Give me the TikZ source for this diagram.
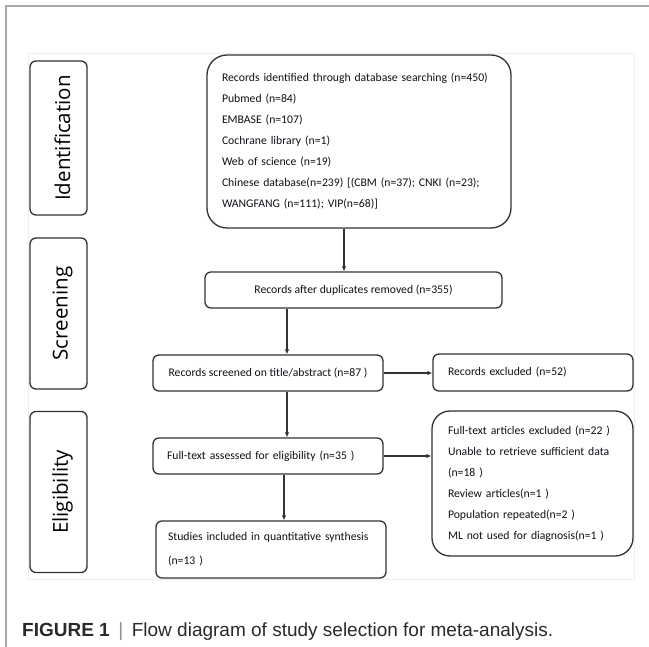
\documentclass[tikz,border=0pt]{standalone}
\usepackage{fontspec}
\setmainfont{Carlito}
\newfontfamily\labelfont{Open Sans}
\newfontfamily\capfont{Liberation Sans}
\usetikzlibrary{arrows.meta}
\definecolor{boxline}{HTML}{333333}
\definecolor{txt}{HTML}{101018}
\definecolor{frameouter}{HTML}{A8A8A8}
\definecolor{frameinner}{HTML}{EEEEEE}
\definecolor{captxt}{HTML}{2A2A2A}
\begin{document}
\begin{tikzpicture}[x=1pt,y=-1pt,
  box/.style={draw=boxline, line width=1.3pt, rounded corners=6pt, inner ysep=0pt,
    font=\fontsize{11.7}{21}\selectfont, text=txt},
  bigbox/.style={box, rounded corners=20pt},
  sidebox/.style={draw=boxline, line width=1.3pt, rounded corners=6pt, minimum width=57pt, inner sep=0pt},
  sidelabel/.style={rotate=90, font=\labelfont\fontsize{20.5}{24}\selectfont, text=black, inner sep=0pt},
  arr/.style={draw=boxline, line width=1.2pt, -{Latex[length=5pt,width=4.5pt]}},
]
\useasboundingbox (0,0) rectangle (649,647);
\fill[white] (0,0) rectangle (649,647);
% frames
\draw[frameouter, line width=1.5pt] (6,647) -- (6,6) -- (649,6);
\draw[frameinner, line width=0.8pt] (28,53) rectangle (634,579);

% side boxes
\node[sidebox, minimum height=154pt] (idbox) at (58.5,138) {};
\node[sidelabel] (idlab) at ([xshift=4pt]idbox.center) {Identification};
\node[sidebox, minimum height=151pt] (scbox) at (58.5,313.5) {};
\node[sidelabel] (sclab) at ([xshift=4pt]scbox.center) {Screening};
\node[sidebox, minimum height=161pt] (elbox) at (58.5,492) {};
\node[sidelabel] (ellab) at ([xshift=4pt]elbox.center) {Eligibility};

% main boxes
\node[bigbox, inner xsep=15pt, text width=274pt, minimum height=173pt, align=left] (b1) at (359,141.5)
 {Records identified through database searching (n=450)\\
  Pubmed (n=84)\\
  EMBASE (n=107)\\
  Cochrane library (n=1)\\
  Web of science (n=19)\\
  \makebox[268pt][s]{Chinese database(n=239) [(CBM (n=37); CNKI (n=23);}\\
  WANGFANG (n=111); VIP(n=68)]};

\node[box, inner xsep=0pt, minimum width=297pt, minimum height=36pt, align=center] (b2) at (353.5,290)
 {Records after duplicates removed (n=355)};

\node[box, inner xsep=0pt, minimum width=230pt, minimum height=36pt, align=center] (b3) at (268,373)
 {Records screened on title/abstract (n=87 )};

\node[box, inner xsep=15pt, text width=170pt, minimum height=37pt, align=left] (b4) at (533,372.5)
 {Records excluded (n=52)};

\node[box, inner xsep=14pt, text width=202pt, minimum height=36pt, align=left] (b5) at (268,456)
 {Full-text assessed for eligibility (n=35 )};

\node[bigbox, rounded corners=18pt, inner xsep=16pt, text width=169pt, minimum height=145pt, align=left] (b6) at (532.5,483.5)
 {Full-text articles excluded (n=22 )\\
  Unable to retrieve sufficient data\\
  (n=18 )\\
  Review articles(n=1 )\\
  Population repeated(n=2 )\\
  ML not used for diagnosis(n=1 )};

\node[box, inner xsep=12pt, text width=206pt, minimum height=57pt, align=left,
  font=\fontsize{11.7}{24}\selectfont] (b7) at (271,549.5)
 {\makebox[210pt][s]{Studies included in quantitative synthesis}\\
  (n=13 )};

% connectors
\draw[arr] ([xshift=-15pt]b1.south) -- ([xshift=-15pt]b1.south |- b2.north);
\draw[arr] ([xshift=19pt]b3.north |- b2.south) -- ([xshift=19pt]b3.north);
\draw[arr] (b3.east) -- (b3.east -| b4.west);
\draw[arr] ([xshift=19pt]b3.south) -- ([xshift=19pt]b3.south |- b5.north);
\draw[arr] (b5.east) -- (b5.east -| b6.west);
\draw[arr] ([xshift=16pt]b5.south) -- ([xshift=16pt]b5.south |- b7.north);

% caption
\node[anchor=base west, inner sep=0pt, text=captxt, font=\capfont\fontsize{19}{23}\selectfont] (cap) at (22,636)
 {\textbf{FIGURE 1}\hspace{0.45em}{\color{black!45}|}\hspace{0.45em}Flow diagram of study selection for meta-analysis.};
\end{tikzpicture}
\end{document}
